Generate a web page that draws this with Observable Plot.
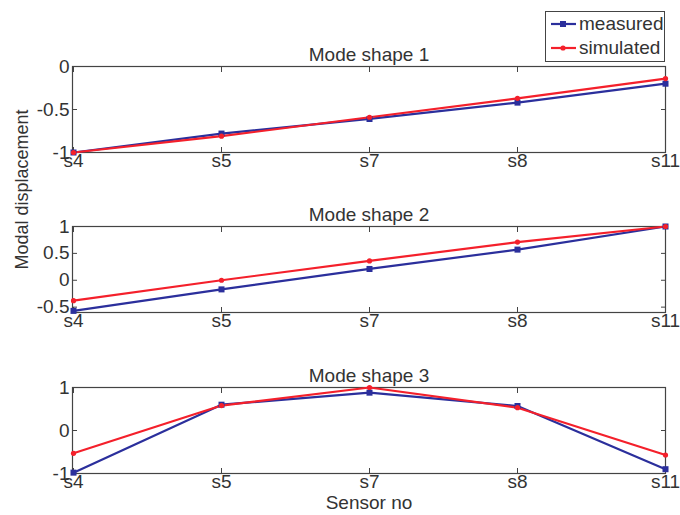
<!DOCTYPE html>
<html>
<head>
<meta charset="utf-8">
<script src="https://cdn.jsdelivr.net/npm/d3@7"></script>
<script src="https://cdn.jsdelivr.net/npm/@observablehq/plot@0.6"></script>
<style>
  html, body { margin: 0; padding: 0; background: #fff; }
  #chart { position: relative; width: 680px; height: 515px; background: #fff; font-family: "Liberation Sans", Arial, Helvetica, sans-serif; }
  #chart svg { display: block; }
  .legend { position: absolute; left: 545px; top: 11px; width: 118px; height: 49px; border: 1px solid #444; background: #fff; }
  .legend .row { position: absolute; left: 4px; height: 24px; display: flex; align-items: center; font-size: 19px; color: #333; }
  .legend svg { margin-right: 2px; }
</style>
</head>
<body>
<div id="chart"></div>
<script>
// Sensor positions along the structure
const sensors = ["s4", "s5", "s7", "s8", "s11"];

// Normalised modal displacements per mode shape
const mode1Measured  = [-1.00, -0.78, -0.61, -0.42, -0.20];
const mode1Simulated = [-1.00, -0.81, -0.59, -0.37, -0.14];
const mode2Measured  = [-0.57, -0.17, 0.21, 0.57, 1.00];
const mode2Simulated = [-0.38, 0.00, 0.36, 0.71, 1.00];
const mode3Measured  = [-0.98, 0.60, 0.88, 0.57, -0.90];
const mode3Simulated = [-0.53, 0.58, 1.00, 0.53, -0.57];

const titles = ["Mode shape 1", "Mode shape 2", "Mode shape 3"];
const yDomains = [[-1, 0], [-0.6, 1], [-1, 1]];
const yTickValues = [[-1, -0.5, 0], [-0.5, 0, 0.5, 1], [-1, 0, 1]];
const seriesNames = ["measured", "simulated"];
const yLabel = "Modal displacement";
const xLabel = "Sensor no";

const colors = { measured: "#2b2f9c", simulated: "#f4202b" };
const FONT = 19;
const axisColor = "#444";
const textColor = "#333";

function rows(measured, simulated) {
  const out = [];
  sensors.forEach((s, i) => out.push({ sensor: s, value: measured[i], series: "measured" }));
  sensors.forEach((s, i) => out.push({ sensor: s, value: simulated[i], series: "simulated" }));
  return out;
}

function panel(k, measured, simulated, layout) {
  const data = rows(measured, simulated);
  const fmt = d => String(d);
  const marks = [
    Plot.frame({ stroke: axisColor, strokeWidth: 1.2 }),
    // inward ticks on all four sides
    Plot.axisX({ anchor: "bottom", tickSize: -5, text: null, stroke: axisColor, label: null }),
    Plot.axisX({ anchor: "top", tickSize: -5, text: null, stroke: axisColor, label: null }),
    Plot.axisY({ anchor: "left", ticks: yTickValues[k], tickSize: -5, text: null, stroke: axisColor, label: null }),
    Plot.axisY({ anchor: "right", ticks: yTickValues[k], tickSize: -5, text: null, stroke: axisColor, label: null }),
    // tick labels
    Plot.axisX({ anchor: "bottom", tickSize: 0, tickPadding: 1, fill: textColor, label: null, fontSize: FONT }),
    Plot.axisY({ anchor: "left", ticks: yTickValues[k], tickFormat: fmt, tickSize: 0, tickPadding: 3, fill: textColor, label: null, fontSize: FONT }),
    // series
    Plot.line(data, { x: "sensor", y: "value", z: "series", stroke: "series", strokeWidth: 2.2 }),
    Plot.dot(data.filter(d => d.series === "measured"), { x: "sensor", y: "value", symbol: "square", r: 3.4, fill: colors.measured }),
    Plot.dot(data.filter(d => d.series === "simulated"), { x: "sensor", y: "value", symbol: "circle", r: 2.6, fill: colors.simulated }),
    // panel title
    Plot.text([titles[k]], { frameAnchor: "top", dy: -19, text: d => d, fontSize: FONT, fill: textColor })
  ];
  if (layout.yLabel) {
    marks.push(Plot.text([yLabel], { frameAnchor: "left", dx: -50, rotate: -90, text: d => d, fontSize: 18, fill: textColor }));
  }
  if (layout.xLabel) {
    marks.push(Plot.text([xLabel], { frameAnchor: "bottom", dy: 35, text: d => d, fontSize: FONT, fill: textColor }));
  }
  return Plot.plot({
    width: 680,
    height: layout.height,
    marginTop: layout.marginTop,
    marginBottom: layout.marginBottom,
    marginLeft: 72,
    marginRight: 15,
    style: { fontFamily: '"Liberation Sans", Arial, Helvetica, sans-serif', background: "#fff", overflow: "visible" },
    x: { type: "point", domain: sensors, padding: 0, label: null },
    y: { domain: yDomains[k], label: null },
    color: { domain: seriesNames, range: [colors.measured, colors.simulated] },
    marks
  });
}

const chart = document.getElementById("chart");
chart.append(panel(0, mode1Measured, mode1Simulated, { height: 180, marginTop: 66, marginBottom: 28 }));
chart.append(panel(1, mode2Measured, mode2Simulated, { height: 160, marginTop: 46, marginBottom: 28, yLabel: true }));
chart.append(panel(2, mode3Measured, mode3Simulated, { height: 175, marginTop: 47, marginBottom: 42, xLabel: true }));

// Legend box in the top right corner
const legend = document.createElement("div");
legend.className = "legend";
seriesNames.forEach((name, i) => {
  const row = document.createElement("div");
  row.className = "row";
  row.style.top = (i === 0 ? 0 : 24) + "px";
  const sw = d3.create("svg").attr("width", 27).attr("height", 12);
  sw.append("line").attr("x1", 1).attr("x2", 26).attr("y1", 6).attr("y2", 6)
    .attr("stroke", colors[name]).attr("stroke-width", 2.2);
  if (name === "measured") {
    sw.append("rect").attr("x", 10).attr("y", 3).attr("width", 6).attr("height", 6).attr("fill", colors[name]);
  } else {
    sw.append("circle").attr("cx", 13).attr("cy", 6).attr("r", 2.6).attr("fill", colors[name]);
  }
  row.append(sw.node());
  const label = document.createElement("span");
  label.textContent = name;
  row.append(label);
  legend.append(row);
});
chart.append(legend);
</script>
</body>
</html>
